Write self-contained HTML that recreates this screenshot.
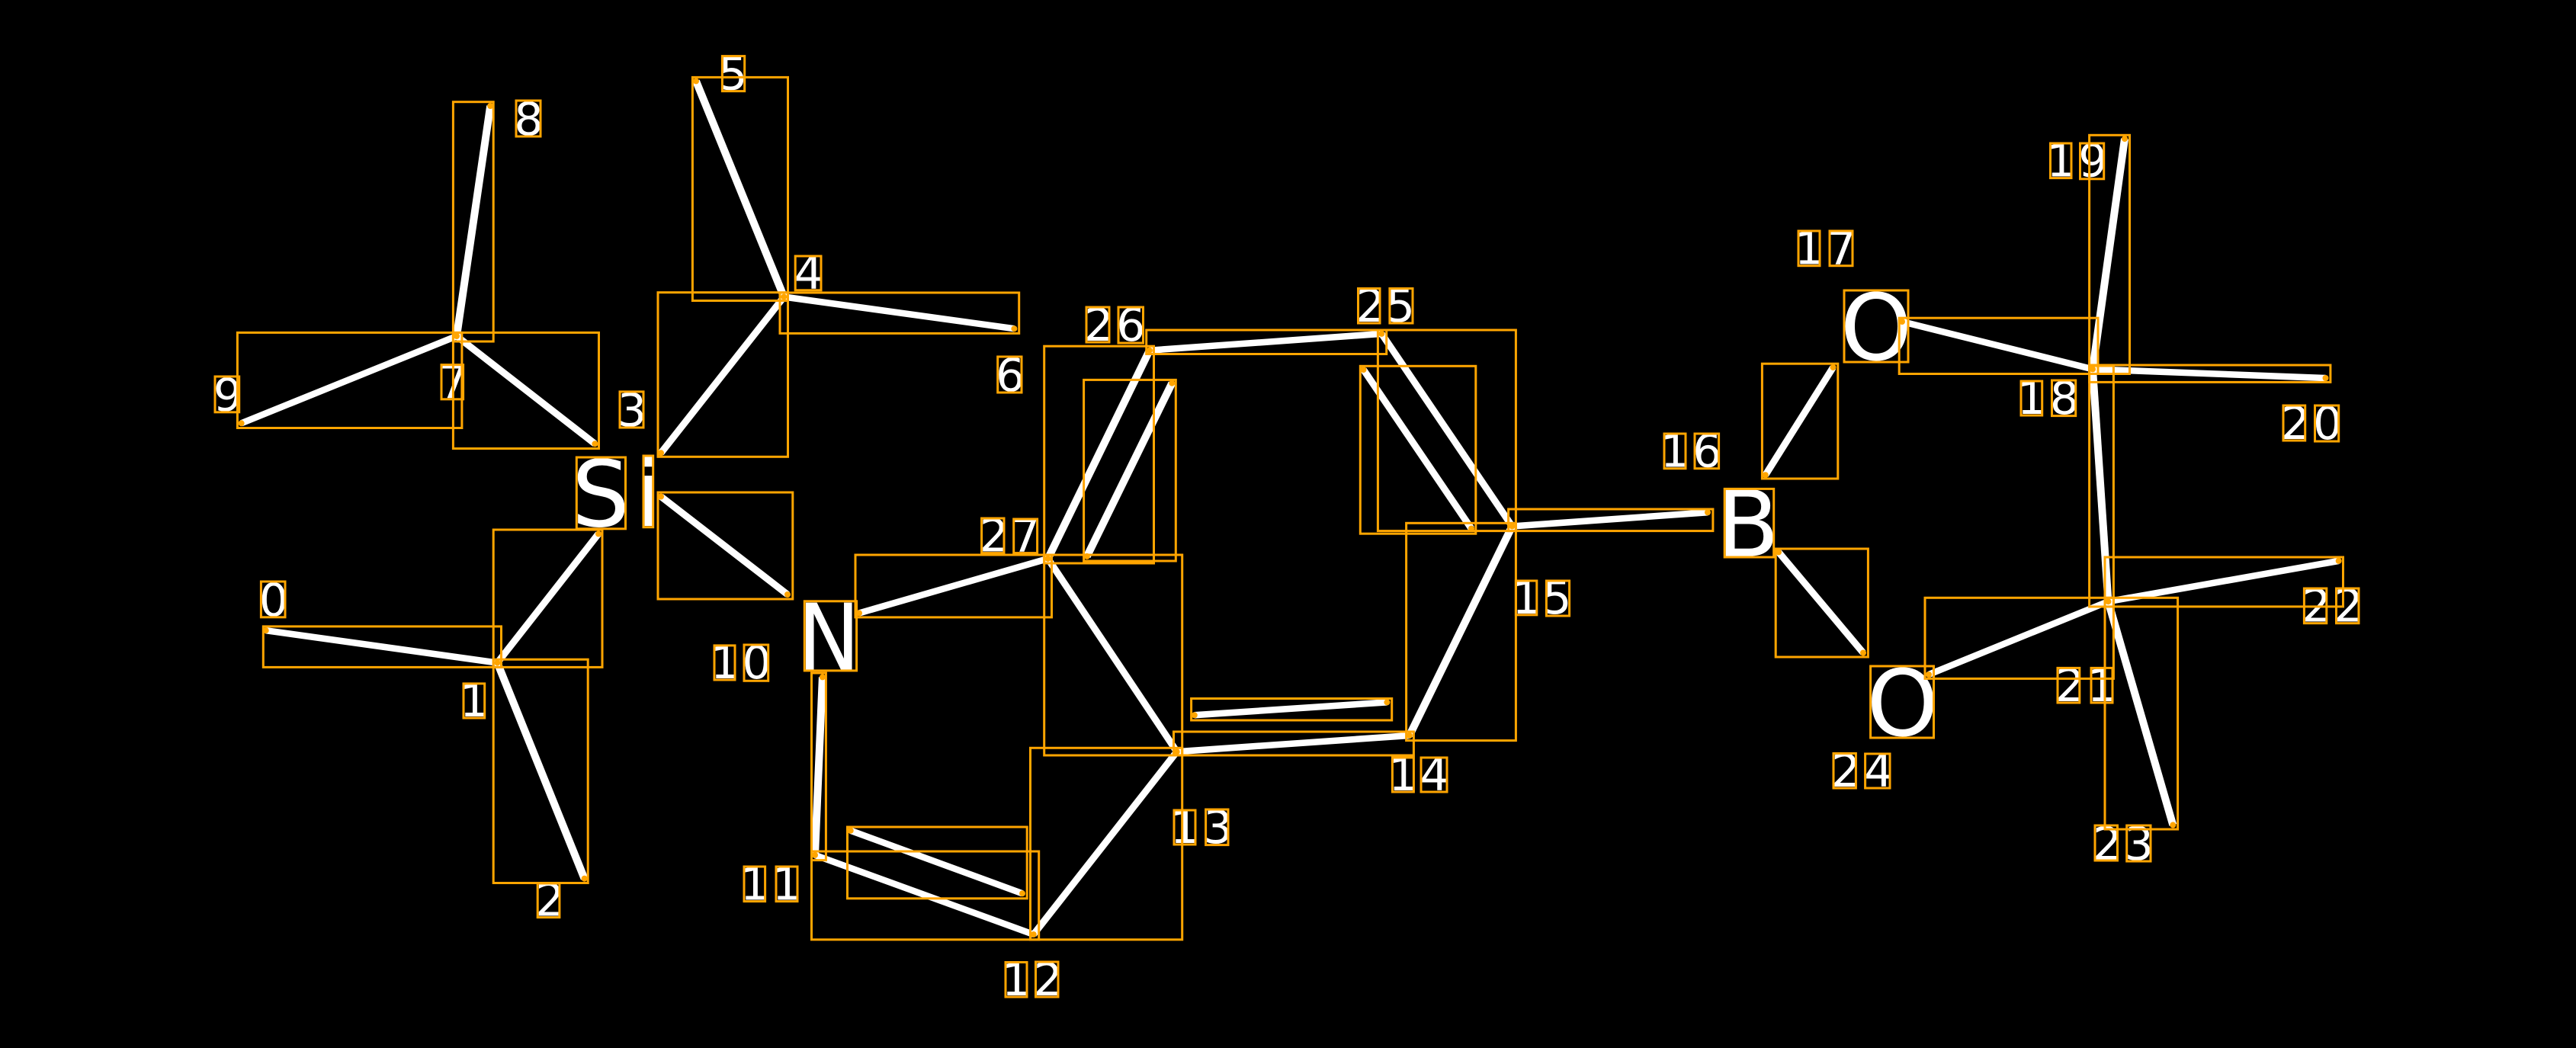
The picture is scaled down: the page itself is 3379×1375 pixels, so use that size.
<!DOCTYPE html>
<html><head><meta charset="utf-8"><style>
html,body{margin:0;padding:0;background:#000;width:3379px;height:1375px;overflow:hidden}
svg{display:block}
text{font-family:"DejaVu Sans",sans-serif;fill:#fff;font-size:60px}
.a{font-size:120px}
line{stroke:#fff;stroke-width:9;stroke-linecap:butt}
line.v{stroke-width:10}
line.h{stroke-width:8.5}
rect{fill:none;stroke:#ffa500;stroke-width:3}
circle{fill:#ffa500}
</style></head><body>
<svg width="3379" height="1375" viewBox="0 0 3379 1375" xmlns="http://www.w3.org/2000/svg">
<rect x="0" y="0" width="3379" height="1375" style="fill:#000;stroke:none"/>
<g>
<line class="h" x1="348.7" y1="827.2" x2="652.4" y2="869.6"/>
<line class="v" x1="652.4" y1="869.6" x2="766.6" y2="1152.7"/>
<line x1="652.4" y1="869.6" x2="785" y2="700.4"/>
<line class="v" x1="599" y1="441" x2="643.2" y2="139"/>
<line class="h" x1="599" y1="441" x2="316.6" y2="555.3"/>
<line x1="599" y1="441" x2="780.4" y2="582.3"/>
<line class="v" x1="1028.3" y1="389.5" x2="913" y2="106.4"/>
<line x1="1028.3" y1="389.5" x2="867" y2="594.3"/>
<line class="h" x1="1028.3" y1="389.5" x2="1330.4" y2="431.2"/>
<line x1="867" y1="651.5" x2="1033" y2="780"/>
<line class="v" x1="1078.9" y1="888.4" x2="1069" y2="1121.9"/>
<line class="h" x1="1069" y1="1121.9" x2="1355.7" y2="1226"/>
<line class="h" x1="1115.7" y1="1089.8" x2="1341" y2="1172.2"/>
<line x1="1355.7" y1="1226" x2="1543.7" y2="986.2"/>
<line class="h" x1="1543.7" y1="986.2" x2="1848.8" y2="965"/>
<line class="h" x1="1566.8" y1="938.3" x2="1819.4" y2="921.4"/>
<line class="v" x1="1848.8" y1="965" x2="1983.5" y2="690.5"/>
<line x1="1983.5" y1="690.5" x2="1812.3" y2="437.9"/>
<line x1="1930" y1="693.5" x2="1788.5" y2="485"/>
<line class="h" x1="1812.3" y1="437.9" x2="1507.9" y2="459.7"/>
<line class="v" x1="1507.9" y1="459.7" x2="1374.6" y2="733"/>
<line class="v" x1="1537.3" y1="502.7" x2="1425.8" y2="729.9"/>
<line class="h" x1="1374.6" y1="733" x2="1127" y2="804.4"/>
<line x1="1374.6" y1="733" x2="1543.7" y2="986.2"/>
<line class="h" x1="1983.5" y1="690.5" x2="2240" y2="672.3"/>
<line x1="2404.5" y1="482" x2="2315.8" y2="623.2"/>
<line x1="2333" y1="724.4" x2="2444" y2="856.5"/>
<line class="h" x1="2495" y1="422" x2="2745" y2="484.4"/>
<line class="v" x1="2745" y1="484.4" x2="2787" y2="182.1"/>
<line class="h" x1="2745" y1="484.4" x2="3050.5" y2="496"/>
<line class="v" x1="2745" y1="484.4" x2="2765.4" y2="789.2"/>
<line class="h" x1="2765.4" y1="789.2" x2="3067.7" y2="735.9"/>
<line class="h" x1="2765.4" y1="789.2" x2="2530" y2="885"/>
<line class="v" x1="2765.4" y1="789.2" x2="2850.3" y2="1082.4"/>
</g>
<g>
<text class="a" x="749.9" y="690.5">S</text>
<text class="a" x="834.2" y="690">i</text>
<text class="a" transform="translate(1057 878.5) scale(.914 1)" x="-11.8" y="0">N</text>
<text class="a" x="2251.9" y="729.5">B</text>
<text class="a" x="2413.8" y="472">O</text>
<text class="a" x="2448.4" y="965">O</text>
<text x="339.9" y="808">0</text>
<text x="602.9" y="940">1</text>
<text x="702.3" y="1201.6">2</text>
<text x="809.9" y="559">3</text>
<text x="1041.8" y="379">4</text>
<text x="942.4" y="117.6">5</text>
<text x="1306" y="513">6</text>
<text x="575.6" y="522">7</text>
<text x="674.4" y="177">8</text>
<text x="279.7" y="539">9</text>
<text x="931.9" y="890">1</text><text x="973.5" y="890">0</text>
<text x="970.9" y="1180.6">1</text><text x="1012.9" y="1180.6">1</text>
<text x="1313.9" y="1306">1</text><text x="1355.6" y="1306">2</text>
<text x="1534.9" y="1106">1</text><text x="1578.5" y="1106">3</text>
<text x="1821.3" y="1037">1</text><text x="1862.6" y="1037">4</text>
<text x="1983.3" y="805">1</text><text x="2023.4" y="805">5</text>
<text x="2177.9" y="612.7">1</text><text x="2220.3" y="612.7">6</text>
<text x="2353.9" y="346.7">1</text><text x="2396.6" y="346.7">7</text>
<text x="2645.9" y="543">1</text><text x="2688.9" y="543">8</text>
<text x="2684.4" y="231.6">1</text><text x="2726.2" y="231.6">9</text>
<text x="2992.1" y="576">2</text><text x="3034" y="576">0</text>
<text x="2737.9" y="920">1</text><text x="2696.1" y="920">2</text>
<text x="3019.5" y="815.7">2</text><text x="3061.6" y="815.7">2</text>
<text x="2745.1" y="1128">2</text><text x="2786.6" y="1128">3</text>
<text x="2402.1" y="1032">2</text><text x="2445.2" y="1032">4</text>
<text x="1778.6" y="422">2</text><text x="1817.9" y="422">5</text>
<text x="1422.1" y="447">2</text><text x="1464.3" y="447">6</text>
<text x="1284.7" y="723.6">2</text><text x="1326.3" y="723.6">7</text>
</g>
<g>
<rect x="594.4" y="133.7" width="52.8" height="314.3"/>
<rect x="311.4" y="436.4" width="294.5" height="125.1"/>
<rect x="594.4" y="436.4" width="191.1" height="152.1"/>
<rect x="908.4" y="101.4" width="125.1" height="293.1"/>
<rect x="863" y="383.7" width="170.5" height="215.6"/>
<rect x="1023" y="384" width="313.7" height="53.4"/>
<rect x="863" y="646" width="176.8" height="140"/>
<rect x="647.2" y="695" width="142.8" height="180.4"/>
<rect x="345.3" y="821.9" width="312.2" height="53.5"/>
<rect x="647.2" y="865.2" width="124" height="293.3"/>
<rect x="1064.5" y="883" width="18.9" height="245.6"/>
<rect x="1064.5" y="1117" width="298.2" height="115.8"/>
<rect x="1111.5" y="1085" width="235.7" height="93.8"/>
<rect x="1351.5" y="981.3" width="199.2" height="251.5"/>
<rect x="1369.7" y="728" width="181" height="263"/>
<rect x="1539.5" y="960" width="314.9" height="31"/>
<rect x="1562.6" y="916.5" width="263.1" height="28.5"/>
<rect x="1844.6" y="686.3" width="143.8" height="285.3"/>
<rect x="1807.4" y="433" width="181" height="263.6"/>
<rect x="1784.3" y="480.3" width="151.5" height="219.9"/>
<rect x="1503.7" y="433" width="315" height="31.5"/>
<rect x="1369.7" y="454.2" width="143.8" height="284.8"/>
<rect x="1421.6" y="498.4" width="120.7" height="237.6"/>
<rect x="1122" y="728" width="257.5" height="81.9"/>
<rect x="1978.6" y="668" width="268.3" height="28.6"/>
<rect x="2311.4" y="477.2" width="99.4" height="150.8"/>
<rect x="2329.2" y="720" width="121.2" height="142"/>
<rect x="2491.2" y="417.2" width="260.8" height="73.3"/>
<rect x="2740.6" y="177.3" width="52.9" height="313.2"/>
<rect x="2740.6" y="479" width="316.3" height="22.4"/>
<rect x="2740.6" y="480" width="31.8" height="316"/>
<rect x="2761" y="731" width="312.5" height="64.9"/>
<rect x="2525" y="784.3" width="247.4" height="106.1"/>
<rect x="2761" y="784.3" width="95.6" height="303.7"/>
<rect x="756.3" y="600" width="64.2" height="93.8"/>
<rect x="844" y="598" width="12.7" height="93.7"/>
<rect x="1055.3" y="788.8" width="68.3" height="91.1"/>
<rect x="2262.2" y="641.4" width="64.5" height="89.6"/>
<rect x="2419" y="381" width="84" height="94"/>
<rect x="2453.6" y="874" width="82.9" height="94"/>
<rect x="342.4" y="763" width="31.6" height="46.8"/>
<rect x="608" y="896.9" width="27.7" height="45.1"/>
<rect x="705.2" y="1159" width="28.7" height="44.6"/>
<rect x="813" y="513.9" width="31" height="47.1"/>
<rect x="1043.2" y="336" width="33.8" height="44.8"/>
<rect x="947.4" y="73.6" width="29.3" height="46"/>
<rect x="1308.7" y="468" width="31.3" height="47"/>
<rect x="579" y="478.6" width="28.6" height="45.2"/>
<rect x="677" y="132" width="32" height="47"/>
<rect x="282" y="494" width="31.7" height="46.8"/>
<rect x="937" y="846.9" width="27" height="45.1"/><rect x="976" y="846" width="31.7" height="47.3"/>
<rect x="976" y="1137" width="27.6" height="45.6"/><rect x="1018" y="1137" width="28" height="45.6"/>
<rect x="1319" y="1262.5" width="28" height="45.5"/><rect x="1358.5" y="1262" width="29.5" height="46"/>
<rect x="1540" y="1063" width="28" height="45"/><rect x="1581.6" y="1062" width="29.4" height="46.6"/>
<rect x="1826.4" y="994" width="28" height="45"/><rect x="1864" y="994" width="34" height="45"/>
<rect x="1988.4" y="762" width="27.4" height="44.8"/><rect x="2028.4" y="762" width="30.2" height="46"/>
<rect x="2183" y="569" width="28" height="45.7"/><rect x="2223" y="569" width="31.6" height="45.7"/>
<rect x="2359" y="303" width="28" height="45.7"/><rect x="2400" y="303" width="30" height="45.7"/>
<rect x="2651" y="500" width="27.7" height="45"/><rect x="2691.5" y="499" width="31.2" height="46.6"/>
<rect x="2689.5" y="188" width="27.5" height="45.6"/><rect x="2728.5" y="188" width="31.2" height="46.8"/>
<rect x="2995" y="532" width="28.7" height="46"/><rect x="3036.5" y="532" width="31.2" height="47"/>
<rect x="2699" y="876.4" width="28.8" height="45.6"/><rect x="2743" y="876.4" width="28" height="45.6"/>
<rect x="3022.4" y="772" width="29.4" height="45.7"/><rect x="3064.5" y="772" width="29.5" height="45.7"/>
<rect x="2748" y="1083" width="29.5" height="46"/><rect x="2789.7" y="1083" width="31.3" height="47"/>
<rect x="2405" y="988.5" width="29.4" height="45.5"/><rect x="2446.6" y="989" width="32.4" height="45"/>
<rect x="1781.5" y="378.5" width="28.5" height="45.5"/><rect x="1822.9" y="378.5" width="30.1" height="45.5"/>
<rect x="1425" y="403" width="30" height="46"/><rect x="1467" y="403" width="32.5" height="47"/>
<rect x="1287.6" y="680" width="29.4" height="45.6"/><rect x="1329.7" y="681" width="30.9" height="44.6"/>
</g>
<g>
<circle cx="348.7" cy="827.2" r="4"/><circle cx="652.4" cy="869.6" r="4"/><circle cx="766.6" cy="1152.7" r="4"/><circle cx="785" cy="700.4" r="4"/>
<circle cx="599" cy="441" r="4"/><circle cx="643.2" cy="139" r="4"/><circle cx="316.6" cy="555.3" r="4"/><circle cx="780.4" cy="582.3" r="4"/>
<circle cx="1028.3" cy="389.5" r="4"/><circle cx="913" cy="106.4" r="4"/><circle cx="867" cy="594.3" r="4"/><circle cx="1330.4" cy="431.2" r="4"/>
<circle cx="867" cy="651.5" r="4"/><circle cx="1033" cy="780" r="4"/><circle cx="1078.9" cy="888.4" r="4"/><circle cx="1069" cy="1121.9" r="4"/>
<circle cx="1355.7" cy="1226" r="4"/><circle cx="1115.7" cy="1089.8" r="4"/><circle cx="1341" cy="1172.2" r="4"/><circle cx="1543.7" cy="986.2" r="4"/>
<circle cx="1848.8" cy="965" r="4"/><circle cx="1566.8" cy="938.3" r="4"/><circle cx="1819.4" cy="921.4" r="4"/><circle cx="1983.5" cy="690.5" r="4"/>
<circle cx="1812.3" cy="437.9" r="4"/><circle cx="1930" cy="693.5" r="4"/><circle cx="1788.5" cy="485" r="4"/><circle cx="1507.9" cy="459.7" r="4"/>
<circle cx="1374.6" cy="733" r="4"/><circle cx="1537.3" cy="502.7" r="4"/><circle cx="1425.8" cy="729.9" r="4"/><circle cx="1127" cy="804.4" r="4"/>
<circle cx="2240" cy="672.3" r="4"/><circle cx="2404.5" cy="482" r="4"/><circle cx="2315.8" cy="623.2" r="4"/><circle cx="2333" cy="724.4" r="4"/>
<circle cx="2444" cy="856.5" r="4"/><circle cx="2495" cy="422" r="4"/><circle cx="2745" cy="484.4" r="4"/><circle cx="2787" cy="182.1" r="4"/>
<circle cx="3050.5" cy="496" r="4"/><circle cx="2765.4" cy="789.2" r="4"/><circle cx="3067.7" cy="735.9" r="4"/><circle cx="2530" cy="885" r="4"/>
<circle cx="2850.3" cy="1082.4" r="4"/>
</g>
</svg>
</body></html>
